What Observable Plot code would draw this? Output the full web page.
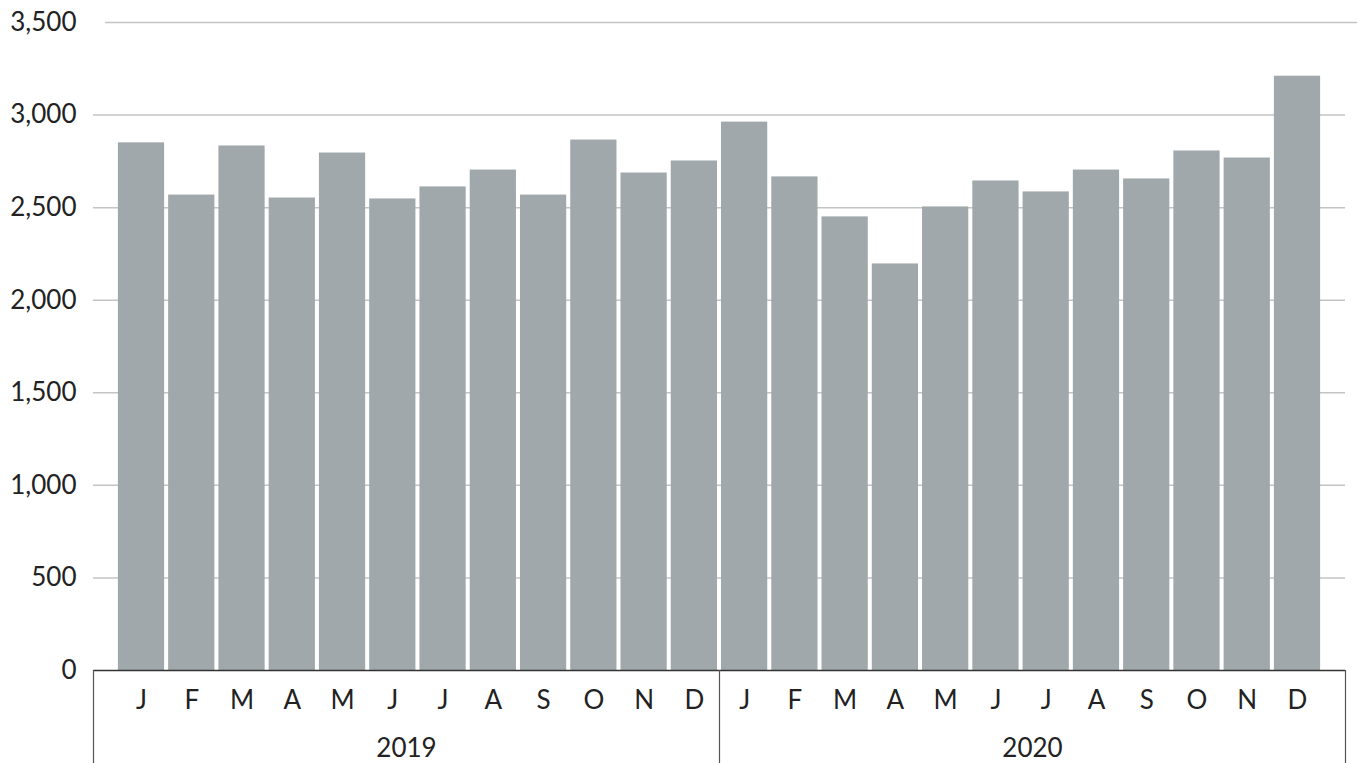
<!DOCTYPE html>
<html>
<head>
<meta charset="utf-8">
<script src="https://cdn.jsdelivr.net/npm/d3@7"></script>
<script src="https://cdn.jsdelivr.net/npm/@observablehq/plot@0.6"></script>
<style>
  html, body { margin: 0; padding: 0; background: #fff; }
  #wrap { position: relative; width: 1359px; height: 763px; }
  #wrap svg { position: absolute; top: 0; left: 0; }
</style>
</head>
<body>
<div id="wrap"></div>
<script>
const months = ["J", "F", "M", "A", "M", "J", "J", "A", "S", "O", "N", "D"];
const years = [2019, 2020];
const values2019 = [2850, 2568, 2833, 2552, 2795, 2547, 2612, 2703, 2568, 2865, 2687, 2752];
const values2020 = [2962, 2666, 2450, 2196, 2504, 2644, 2585, 2703, 2655, 2806, 2768, 3210];
const yTicks = [0, 500, 1000, 1500, 2000, 2500, 3000, 3500];

const seriesByYear = [values2019, values2020];
const data = years.flatMap((yr, yi) =>
  months.map((m, mi) => ({ key: `${yr}-${mi}`, month: m, year: yr, value: seriesByYear[yi][mi] }))
);
const keyToMonth = new Map(data.map(d => [d.key, d.month]));

const FONT = "Lato, 'Noto Sans', sans-serif";
const W = 1359, H = 763;

const main = Plot.plot({
  width: W,
  height: H,
  marginLeft: 93,
  marginRight: 14,
  marginTop: 22,
  marginBottom: 93,
  style: { fontFamily: FONT, fontSize: "26px", color: "#222", background: "transparent" },
  x: { type: "band", domain: data.map(d => d.key), paddingInner: 0.08, paddingOuter: 0.495, round: false },
  y: { domain: [0, 3500] },
  marks: [
    Plot.ruleY(yTicks.filter(t => t > 0 && t < 3500), { stroke: "#c4c4c4", strokeWidth: 1.5 }),
    Plot.ruleY([3500], { stroke: "#c4c4c4", strokeWidth: 1.5, dx: 12 }),
    Plot.barY(data, { x: "key", y: "value", fill: "#a1a8ab" }),
    Plot.ruleY([0], { stroke: "#333", strokeWidth: 1.5 }),
    Plot.axisY({ ticks: yTicks, tickSize: 0, tickPadding: 17, tickFormat: d3.format(","), label: null, fontSize: 26 }),
    Plot.axisX({ tickSize: 0, tickPadding: 20, tickFormat: k => keyToMonth.get(k), label: null, fontSize: 26 })
  ]
});

const bounds = [...years, years[years.length - 1] + 1];
const overlay = Plot.plot({
  width: W,
  height: H,
  marginLeft: 93,
  marginRight: 14,
  marginTop: 670,
  marginBottom: 0,
  style: { fontFamily: FONT, fontSize: "26px", color: "#222", background: "transparent" },
  x: { type: "linear", domain: [bounds[0], bounds[bounds.length - 1]], axis: null },
  y: { type: "linear", domain: [0, 1], axis: null },
  marks: [
    Plot.ruleX(bounds, { y1: 0, y2: 1, stroke: "#555", strokeWidth: 1.2 }),
    Plot.text(years, { x: d => d + 0.5, frameAnchor: "bottom", dy: -15, lineAnchor: "middle", text: d => String(d), fill: "#222", fontSize: 26 })
  ]
});

const wrap = document.getElementById("wrap");
wrap.appendChild(main);
wrap.appendChild(overlay);
</script>
</body>
</html>
